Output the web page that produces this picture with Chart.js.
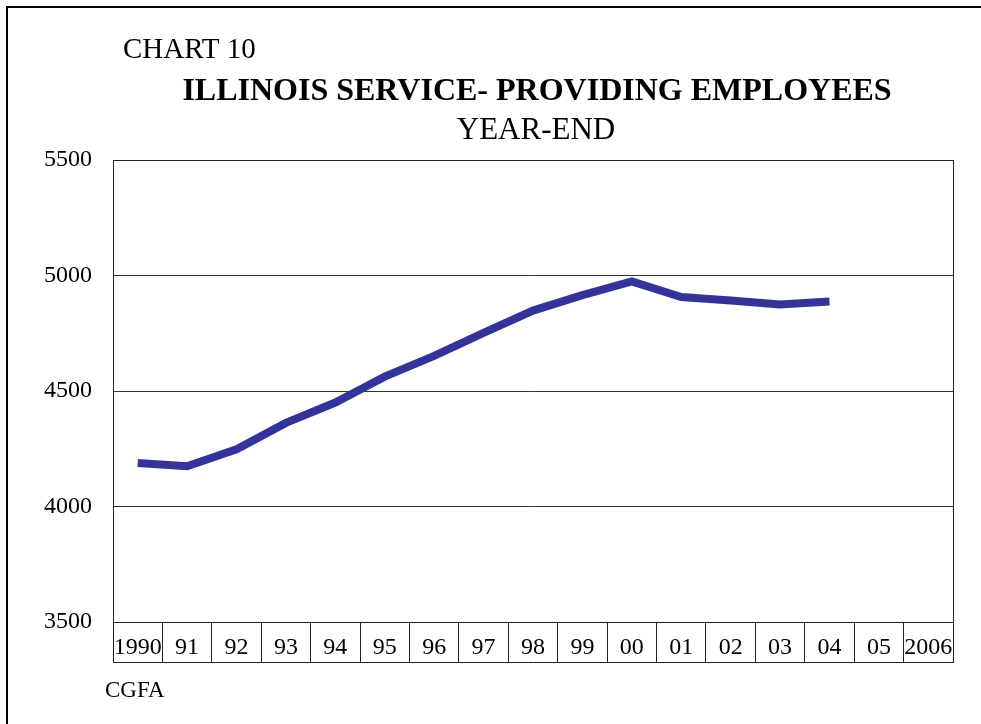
<!DOCTYPE html>
<html>
<head>
<meta charset="utf-8">
<script src="https://cdn.jsdelivr.net/npm/chart.js@4"></script>
<style>
  html, body { margin: 0; padding: 0; background: #fff; }
  #wrap { width: 981px; height: 724px; }
</style>
</head>
<body>
<div id="wrap"><canvas id="chart"></canvas></div>
<script>
const years = ['1990', '91', '92', '93', '94', '95', '96', '97', '98', '99', '00', '01', '02', '03', '04', '05', '2006']
const employees = [4188, 4174, 4248, 4362, 4450, 4562, 4652, 4752, 4848, 4915, 4974, 4907, 4892, 4875, 4887, null, null]
const yTicks = [3500, 4000, 4500, 5000, 5500]

const serif = "'Liberation Serif', 'Times New Roman', serif"

// page frame, headings, source note and the box under the plot
const decor = {
  id: 'decor',
  afterDraw(chart) {
    const ctx = chart.ctx
    const a = chart.chartArea
    ctx.save()
    ctx.strokeStyle = '#000'
    ctx.lineWidth = 2
    ctx.strokeRect(7, 7, 1000, 1000)

    ctx.lineWidth = 1
    ctx.strokeStyle = '#222'
    ctx.strokeRect(a.left + 0.5, a.top + 0.5, a.right - a.left, a.bottom - a.top)
    ctx.beginPath()
    ctx.moveTo(a.left, a.bottom + 40.5)
    ctx.lineTo(a.right + 1, a.bottom + 40.5)
    ctx.stroke()

    ctx.fillStyle = '#000'
    ctx.textBaseline = 'alphabetic'
    ctx.textAlign = 'left'
    ctx.font = '29px ' + serif
    ctx.fillText('CHART 10', 123, 58)
    ctx.font = '23px ' + serif
    ctx.fillText('CGFA', 105, 697)
    ctx.textAlign = 'center'
    ctx.font = 'bold 32px ' + serif
    ctx.fillText('ILLINOIS SERVICE- PROVIDING EMPLOYEES', 537, 100)
    ctx.font = '31px ' + serif
    ctx.fillText('YEAR-END', 536, 139)
    ctx.restore()
  }
}

new Chart(document.getElementById('chart'), {
  type: 'line',
  data: {
    labels: years,
    datasets: [{
      label: 'Employees',
      data: employees,
      borderColor: '#333399',
      borderWidth: 8,
      pointRadius: 0,
      tension: 0,
      spanGaps: false
    }]
  },
  options: {
    responsive: true,
    maintainAspectRatio: false,
    animation: false,
    layout: { padding: { left: 0, top: 160, right: 28, bottom: 62 } },
    plugins: { legend: { display: false }, tooltip: { enabled: false } },
    scales: {
      x: {
        offset: true,
        afterFit: s => { s.height = 40 },
        grid: { offset: true, drawOnChartArea: false, drawTicks: true, tickLength: 40, color: '#222', lineWidth: 1 },
        border: { display: true, color: '#222', width: 1 },
        ticks: { color: '#000', font: { family: serif, size: 24 }, padding: -29, maxRotation: 0, autoSkip: false }
      },
      y: {
        min: 3500,
        max: 5500,
        afterFit: s => { s.width = 113 },
        afterBuildTicks: s => { s.ticks = yTicks.map(v => ({ value: v })) },
        grid: { color: '#333', lineWidth: 1, drawTicks: false },
        border: { display: true, color: '#222', width: 1 },
        ticks: { color: '#000', font: { family: serif, size: 24 }, padding: 21, callback: v => String(v) }
      }
    }
  },
  plugins: [decor]
})
</script>
</body>
</html>
